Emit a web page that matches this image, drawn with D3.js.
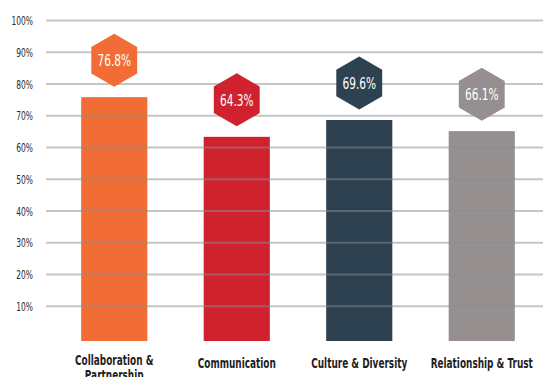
<!DOCTYPE html>
<html>
<head>
<meta charset="utf-8">
<script src="https://cdn.jsdelivr.net/npm/d3@7"></script>
<style>
  html, body { margin: 0; padding: 0; background: #fff; }
  svg { display: block; }
  .tick-label { font-family: "DejaVu Sans", sans-serif; font-size: 13px; fill: #2a2a2a; }
  .cat-label { font-family: "DejaVu Sans", sans-serif; font-size: 13.5px; font-weight: bold; fill: #1e1e1e; }
  .val-label { font-family: "DejaVu Sans", sans-serif; font-size: 16.5px; fill: #fff; }
</style>
</head>
<body>
<script>
const categories = ["Collaboration & Partnership", "Communication", "Culture & Diversity", "Relationship & Trust"];
const categoryLines = [["Collaboration &", "Partnership"], ["Communication"], ["Culture & Diversity"], ["Relationship & Trust"]];
const values = [76.8, 64.3, 69.6, 66.1];
const valueLabels = ["76.8%", "64.3%", "69.6%", "66.1%"];
const colors = ["#f26d36", "#d0222e", "#2e4150", "#958f90"];
const tickValues = [10, 20, 30, 40, 50, 60, 70, 80, 90, 100];
const tickLabels = ["10%", "20%", "30%", "40%", "50%", "60%", "70%", "80%", "90%", "100%"];

const W = 543, H = 377;
const svg = d3.select("body").append("svg").attr("width", W).attr("height", H);

const y = d3.scaleLinear().domain([0, 100]).range([338, 20.5]);
const x = d3.scaleBand().domain(categories).range([53, 543]).paddingInner(0.46).paddingOuter(0.23);

// condense text horizontally (reference uses a condensed typeface)
function condense(sel, k) {
  sel.each(function() {
    const len = this.getComputedTextLength();
    d3.select(this).attr("textLength", len * k).attr("lengthAdjust", "spacingAndGlyphs");
  });
}

// bars
svg.selectAll("rect.bar").data(categories).enter().append("rect")
  .attr("class", "bar")
  .attr("x", d => x(d))
  .attr("width", x.bandwidth())
  .attr("y", (d, i) => y(values[i]) + 3)
  .attr("height", (d, i) => y(0) - y(values[i]))
  .attr("fill", (d, i) => colors[i]);

// gridlines (drawn over bars, translucent)
svg.selectAll("line.grid").data(tickValues).enter().append("line")
  .attr("class", "grid")
  .attr("x1", 46).attr("x2", W)
  .attr("y1", d => y(d)).attr("y2", d => y(d))
  .attr("stroke", "rgba(140,140,140,0.5)")
  .attr("stroke-width", 2);

// y tick labels
svg.selectAll("text.tick-label").data(tickValues).enter().append("text")
  .attr("class", "tick-label")
  .attr("x", 33)
  .attr("y", d => y(d))
  .attr("dy", "0.35em")
  .attr("text-anchor", "end")
  .text((d, i) => tickLabels[i])
  .call(condense, 0.58);

// hexagons
const R = 26.5;
const hexPts = d3.range(6).map(k => {
  const a = Math.PI / 3 * k - Math.PI / 2;
  return [R * Math.cos(a), R * Math.sin(a)];
});
const hex = svg.selectAll("g.hex").data(categories).enter().append("g")
  .attr("class", "hex")
  .attr("transform", (d, i) => `translate(${x(d) + x.bandwidth() / 2},${y(values[i]) - 34})`);
hex.append("polygon")
  .attr("points", hexPts.map(p => p.join(",")).join(" "))
  .attr("fill", (d, i) => colors[i]);
hex.append("text")
  .attr("class", "val-label")
  .attr("text-anchor", "middle")
  .attr("dy", "0.36em")
  .text((d, i) => valueLabels[i])
  .call(condense, 0.64);

// category labels
const cl = svg.selectAll("text.cat-label").data(categories).enter().append("text")
  .attr("class", "cat-label")
  .attr("text-anchor", "middle")
  .attr("x", d => x(d) + x.bandwidth() / 2)
  .attr("y", (d, i) => categoryLines[i].length > 1 ? 365 : 368);
cl.selectAll("tspan").data((d, i) => categoryLines[i]).enter().append("tspan")
  .attr("x", function() { return d3.select(this.parentNode).attr("x"); })
  .attr("dy", (d, j) => j === 0 ? 0 : 15)
  .text(d => d)
  .call(condense, 0.66);
</script>
</body>
</html>
